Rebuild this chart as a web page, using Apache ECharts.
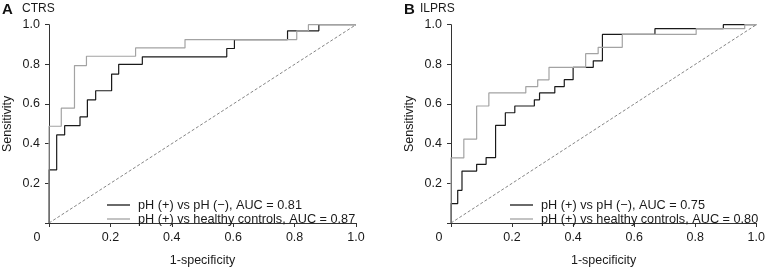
<!DOCTYPE html>
<html><head><meta charset="utf-8">
<script src="https://cdn.jsdelivr.net/npm/echarts@6/dist/echarts.min.js"></script>
<style>html,body{margin:0;padding:0;background:#fff}#c{width:768px;height:272px}</style>
</head><body><div id="c"></div>
<script>
// Panel A: CTRS
const ctrsNegFpr = [0, 0, 0.025, 0.051, 0.101, 0.125, 0.152, 0.204, 0.227, 0.304, 0.579, 0.604, 0.777, 0.879, 1];
const ctrsNegTpr = [0, 0.268, 0.444, 0.491, 0.535, 0.621, 0.667, 0.751, 0.800, 0.838, 0.880, 0.925, 0.969, 1.0, 1];
const ctrsHcFpr = [0, 0, 0.040, 0.083, 0.122, 0.282, 0.443, 0.807, 0.845, 1];
const ctrsHcTpr = [0, 0.488, 0.579, 0.794, 0.841, 0.883, 0.925, 0.969, 1.0, 1];
// Panel B: ILPRS
const ilprsNegFpr = [0, 0, 0.022, 0.036, 0.084, 0.115, 0.146, 0.178, 0.209, 0.273, 0.290, 0.340, 0.371, 0.400, 0.466, 0.496, 0.668, 0.892, 1];
const ilprsNegTpr = [0, 0.098, 0.165, 0.262, 0.296, 0.330, 0.492, 0.556, 0.590, 0.621, 0.656, 0.688, 0.723, 0.785, 0.818, 0.951, 0.980, 1.0, 1];
const ilprsHcFpr = [0, 0, 0.042, 0.084, 0.124, 0.245, 0.284, 0.321, 0.441, 0.482, 0.561, 0.803, 0.962, 1];
const ilprsHcTpr = [0, 0.328, 0.423, 0.590, 0.656, 0.688, 0.722, 0.785, 0.854, 0.886, 0.951, 0.980, 1.0, 1];
// Reference diagonal
const diagX = [0, 1];
const diagY = [0, 1];
// Labels
const panelLetters = ['A', 'B'];
const panelTitles = ['CTRS', 'ILPRS'];
const legendA = ['pH (+) vs pH (\u2212), AUC = 0.81', 'pH (+) vs healthy controls, AUC = 0.87'];
const legendB = ['pH (+) vs pH (\u2212), AUC = 0.75', 'pH (+) vs healthy controls, AUC = 0.80'];
const xName = '1-specificity';
const yName = 'Sensitivity';

const zip = (a, b) => a.map((v, i) => [v, b[i]]);
const FONT = 'Liberation Sans, Arial, sans-serif';
const AX = '#333';
const BLACK = '#1a1a1a';
const GRAY = '#a3a3a3';
const TXT = '#1a1a1a';

const grids = [
  {left: 49, top: 24.7, width: 307, height: 205.3},
  {left: 451, top: 24.7, width: 309, height: 205.3}
];

function xAxis(i) {
  return {
    type: 'value', gridIndex: i, min: 0, max: 1, interval: 0.2,
    name: xName, nameLocation: 'middle', nameGap: 31,
    nameTextStyle: {fontFamily: FONT, fontSize: 12.5, color: TXT},
    axisLine: {lineStyle: {color: AX, width: 1}},
    axisTick: {length: 4, lineStyle: {color: AX}},
    splitLine: {show: false},
    axisLabel: {
      margin: 8, fontFamily: FONT, fontSize: 12.5, color: TXT,
      formatter: v => v === 0 ? '{z|0}' : v.toFixed(1),
      rich: {z: {fontFamily: FONT, fontSize: 12.5, color: TXT, padding: [0, 24, 0, 0]}}
    }
  };
}
function yAxis(i) {
  return {
    type: 'value', gridIndex: i, min: 0, max: 1, interval: 0.2,
    name: yName, nameLocation: 'middle', nameGap: 35,
    nameTextStyle: {fontFamily: FONT, fontSize: 12.5, color: TXT},
    axisLine: {lineStyle: {color: AX, width: 1}},
    axisTick: {length: 4, lineStyle: {color: AX}},
    splitLine: {show: false},
    axisLabel: {
      margin: 9, fontFamily: FONT, fontSize: 12.5, color: TXT,
      formatter: v => v === 0 ? '' : v.toFixed(1)
    }
  };
}
function stepSeries(name, i, xs, ys, color, z) {
  return {
    name: name, type: 'line', xAxisIndex: i, yAxisIndex: i, step: 'end',
    data: zip(xs, ys), symbol: 'none', z: z, silent: true,
    lineStyle: {color: color, width: 1.2}, itemStyle: {color: color}
  };
}
function diagSeries(i) {
  return {
    type: 'line', xAxisIndex: i, yAxisIndex: i, data: zip(diagX, diagY),
    symbol: 'none', silent: true, z: 1,
    lineStyle: {color: '#666', width: 0.8, type: [3, 2]}
  };
}
function legend(names, left) {
  return {
    data: names.map(n => ({name: n, icon: 'rect'})), left: left, top: 198, orient: 'vertical', itemGap: 0,
    itemWidth: 23, itemHeight: 1.3, selectedMode: false, padding: 0,
    textStyle: {fontFamily: FONT, fontSize: 12.7, color: TXT, lineHeight: 14, padding: [0, 0, 0, 3]}
  };
}

const chart = echarts.init(document.getElementById('c'), null, {renderer: 'canvas'});
chart.setOption({
  animation: false,
  backgroundColor: '#fff',
  grid: grids,
  xAxis: [xAxis(0), xAxis(1)],
  yAxis: [yAxis(0), yAxis(1)],
  legend: [legend(legendA, 107), legend(legendB, 510)],
  graphic: [
    {type: 'text', left: 2, top: 2, style: {text: panelLetters[0], font: 'bold 15px ' + FONT, fill: '#111'}},
    {type: 'text', left: 22, top: 3, style: {text: panelTitles[0], font: '12px ' + FONT, fill: TXT}},
    {type: 'text', left: 404, top: 2, style: {text: panelLetters[1], font: 'bold 15px ' + FONT, fill: '#111'}},
    {type: 'text', left: 420, top: 3, style: {text: panelTitles[1], font: '12px ' + FONT, fill: TXT}}
  ],
  series: [
    diagSeries(0),
    stepSeries(legendA[0], 0, ctrsNegFpr, ctrsNegTpr, BLACK, 3),
    stepSeries(legendA[1], 0, ctrsHcFpr, ctrsHcTpr, GRAY, 4),
    diagSeries(1),
    stepSeries(legendB[0], 1, ilprsNegFpr, ilprsNegTpr, BLACK, 3),
    stepSeries(legendB[1], 1, ilprsHcFpr, ilprsHcTpr, GRAY, 4)
  ]
});
</script></body></html>
